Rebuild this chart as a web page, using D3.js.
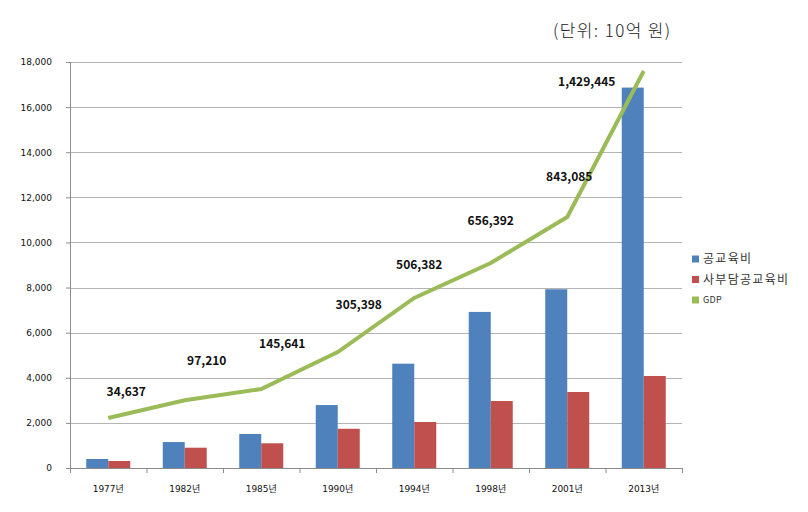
<!DOCTYPE html>
<html>
<head>
<meta charset="utf-8">
<script src="https://cdn.jsdelivr.net/npm/d3@7"></script>
<style>
  body { margin: 0; background: #fff; }
  svg { display: block; }
</style>
</head>
<body>
<svg id="chart" width="808" height="512"></svg>
<script>
var years = ["1977년", "1982년", "1985년", "1990년", "1994년", "1998년", "2001년", "2013년"];
var publicEdu = [400, 1150, 1510, 2790, 4625, 6920, 7925, 16865];
var privateEdu = [310, 900, 1095, 1740, 2040, 2970, 3370, 4080];
// GDP line as drawn against the left axis (picture units)
var gdpPlot = [2220, 3000, 3500, 5140, 7540, 9090, 11130, 17600];
var gdpLabels = ["34,637", "97,210", "145,641", "305,398", "506,382", "656,392", "843,085", "1,429,445"];
var yTicks = [0, 2000, 4000, 6000, 8000, 10000, 12000, 14000, 16000, 18000];
var seriesNames = ["공교육비", "사부담공교육비", "GDP"];

var colors = ["#4F81BD", "#C0504D", "#9BBB59"];
// manual label placement (dx, dy from the line point)
var labelOffsets = [[18, -26], [22, -40], [21, -45], [21, -47], [5, -33], [0, -42], [2, -40], [-57, 11]];

var margin = {top: 62, right: 126, bottom: 44, left: 70},
    width = 808 - margin.left - margin.right,
    height = 512 - margin.top - margin.bottom;

var svg = d3.select("#chart");
var g = svg.append("g")
    .attr("transform", "translate(" + margin.left + "," + margin.top + ")");

var x = d3.scaleBand().domain(years).range([0, width]);
var xSub = d3.scaleBand().domain([0, 1]).range([0, 44]);
var y = d3.scaleLinear().domain([0, 18000]).range([height, 0]);

// grid
g.selectAll(".grid")
    .data(yTicks.slice(1))
  .enter().append("line")
    .attr("class", "grid")
    .attr("x1", 0).attr("x2", width)
    .attr("y1", function(d) { return Math.round(y(d)) + 0.5; })
    .attr("y2", function(d) { return Math.round(y(d)) + 0.5; })
    .style("stroke", "#b4b4b4");

// bars
var group = g.selectAll(".year")
    .data(years)
  .enter().append("g")
    .attr("class", "year")
    .attr("transform", function(d) { return "translate(" + (x(d) + x.bandwidth() / 2 - 22) + ",0)"; });

group.append("rect")
    .attr("x", xSub(0))
    .attr("width", xSub.bandwidth())
    .attr("y", function(d, i) { return y(publicEdu[i]); })
    .attr("height", function(d, i) { return height - y(publicEdu[i]); })
    .style("fill", colors[0]);

group.append("rect")
    .attr("x", xSub(1))
    .attr("width", xSub.bandwidth())
    .attr("y", function(d, i) { return y(privateEdu[i]); })
    .attr("height", function(d, i) { return height - y(privateEdu[i]); })
    .style("fill", colors[1]);

// axes
var yAxis = d3.axisLeft(y).tickValues(yTicks).tickSize(4).tickPadding(14)
    .tickFormat(d3.format(","));
var gy = g.append("g").call(yAxis);
gy.select(".domain").attr("d", "M0.5," + height + "V0").style("stroke", "#8c8c8c");
gy.selectAll(".tick line").style("stroke", "#8c8c8c");
gy.selectAll("text").style("font-family", "DejaVu Sans, sans-serif").style("font-size", "9px").style("fill", "#111");

var xAxis = d3.axisBottom(x).tickSize(0).tickPadding(18);
var gx = g.append("g")
    .attr("transform", "translate(0," + height + ")")
    .call(xAxis);
gx.select(".domain").attr("d", "M0," + 0.5 + "H" + width).style("stroke", "#8c8c8c");
gx.selectAll("text").style("font-family", "DejaVu Sans, Noto Sans CJK KR, sans-serif").style("font-size", "9px").style("fill", "#111");
gx.selectAll(".sep")
    .data(d3.range(years.length + 1))
  .enter().append("line")
    .attr("x1", function(i) { return i * x.step() + 0.5; })
    .attr("x2", function(i) { return i * x.step() + 0.5; })
    .attr("y1", 0).attr("y2", 5)
    .style("stroke", "#8c8c8c");

// GDP line
var line = d3.line()
    .x(function(d, i) { return x(years[i]) + x.bandwidth() / 2; })
    .y(function(d) { return y(d); });

g.append("path")
    .datum(gdpPlot)
    .attr("d", line)
    .style("fill", "none")
    .style("stroke", colors[2])
    .style("stroke-width", 4);

g.selectAll(".gdp-label")
    .data(gdpLabels)
  .enter().append("text")
    .attr("class", "gdp-label")
    .attr("x", function(d, i) { return x(years[i]) + x.bandwidth() / 2 + labelOffsets[i][0]; })
    .attr("y", function(d, i) { return y(gdpPlot[i]) + labelOffsets[i][1]; })
    .attr("dy", "0.35em")
    .attr("text-anchor", "middle")
    .style("font-family", "Noto Sans CJK KR, sans-serif")
    .style("font-weight", "bold")
    .style("font-size", "12px")
    .style("fill", "#111")
    .text(function(d) { return d; });

// legend
var legend = svg.append("g").attr("transform", "translate(692,259)");
var item = legend.selectAll(".item")
    .data(seriesNames)
  .enter().append("g")
    .attr("transform", function(d, i) { return "translate(0," + (i * 20.5) + ")"; });
item.append("rect")
    .attr("x", 0).attr("y", -3.5).attr("width", 7).attr("height", 7)
    .style("fill", function(d, i) { return colors[i]; });
item.append("text")
    .attr("x", 11).attr("dy", "0.35em")
    .style("font-family", "Noto Sans CJK KR, sans-serif")
    .style("font-size", function(d, i) { return i === 2 ? "9px" : "12px"; })
    .style("letter-spacing", function(d, i) { return i === 2 ? "0.3px" : "1.3px"; })
    .style("fill", "#333")
    .text(function(d) { return d; });

// unit
svg.append("text")
    .attr("x", 553).attr("y", 31).attr("dy", "0.35em")
    .style("font-family", "Noto Sans CJK KR, sans-serif")
    .style("font-size", "17px")
    .style("font-weight", "300")
    .style("letter-spacing", "1.4px")
    .style("fill", "#222")
    .text("(단위: 10억 원)");
</script>
</body>
</html>
